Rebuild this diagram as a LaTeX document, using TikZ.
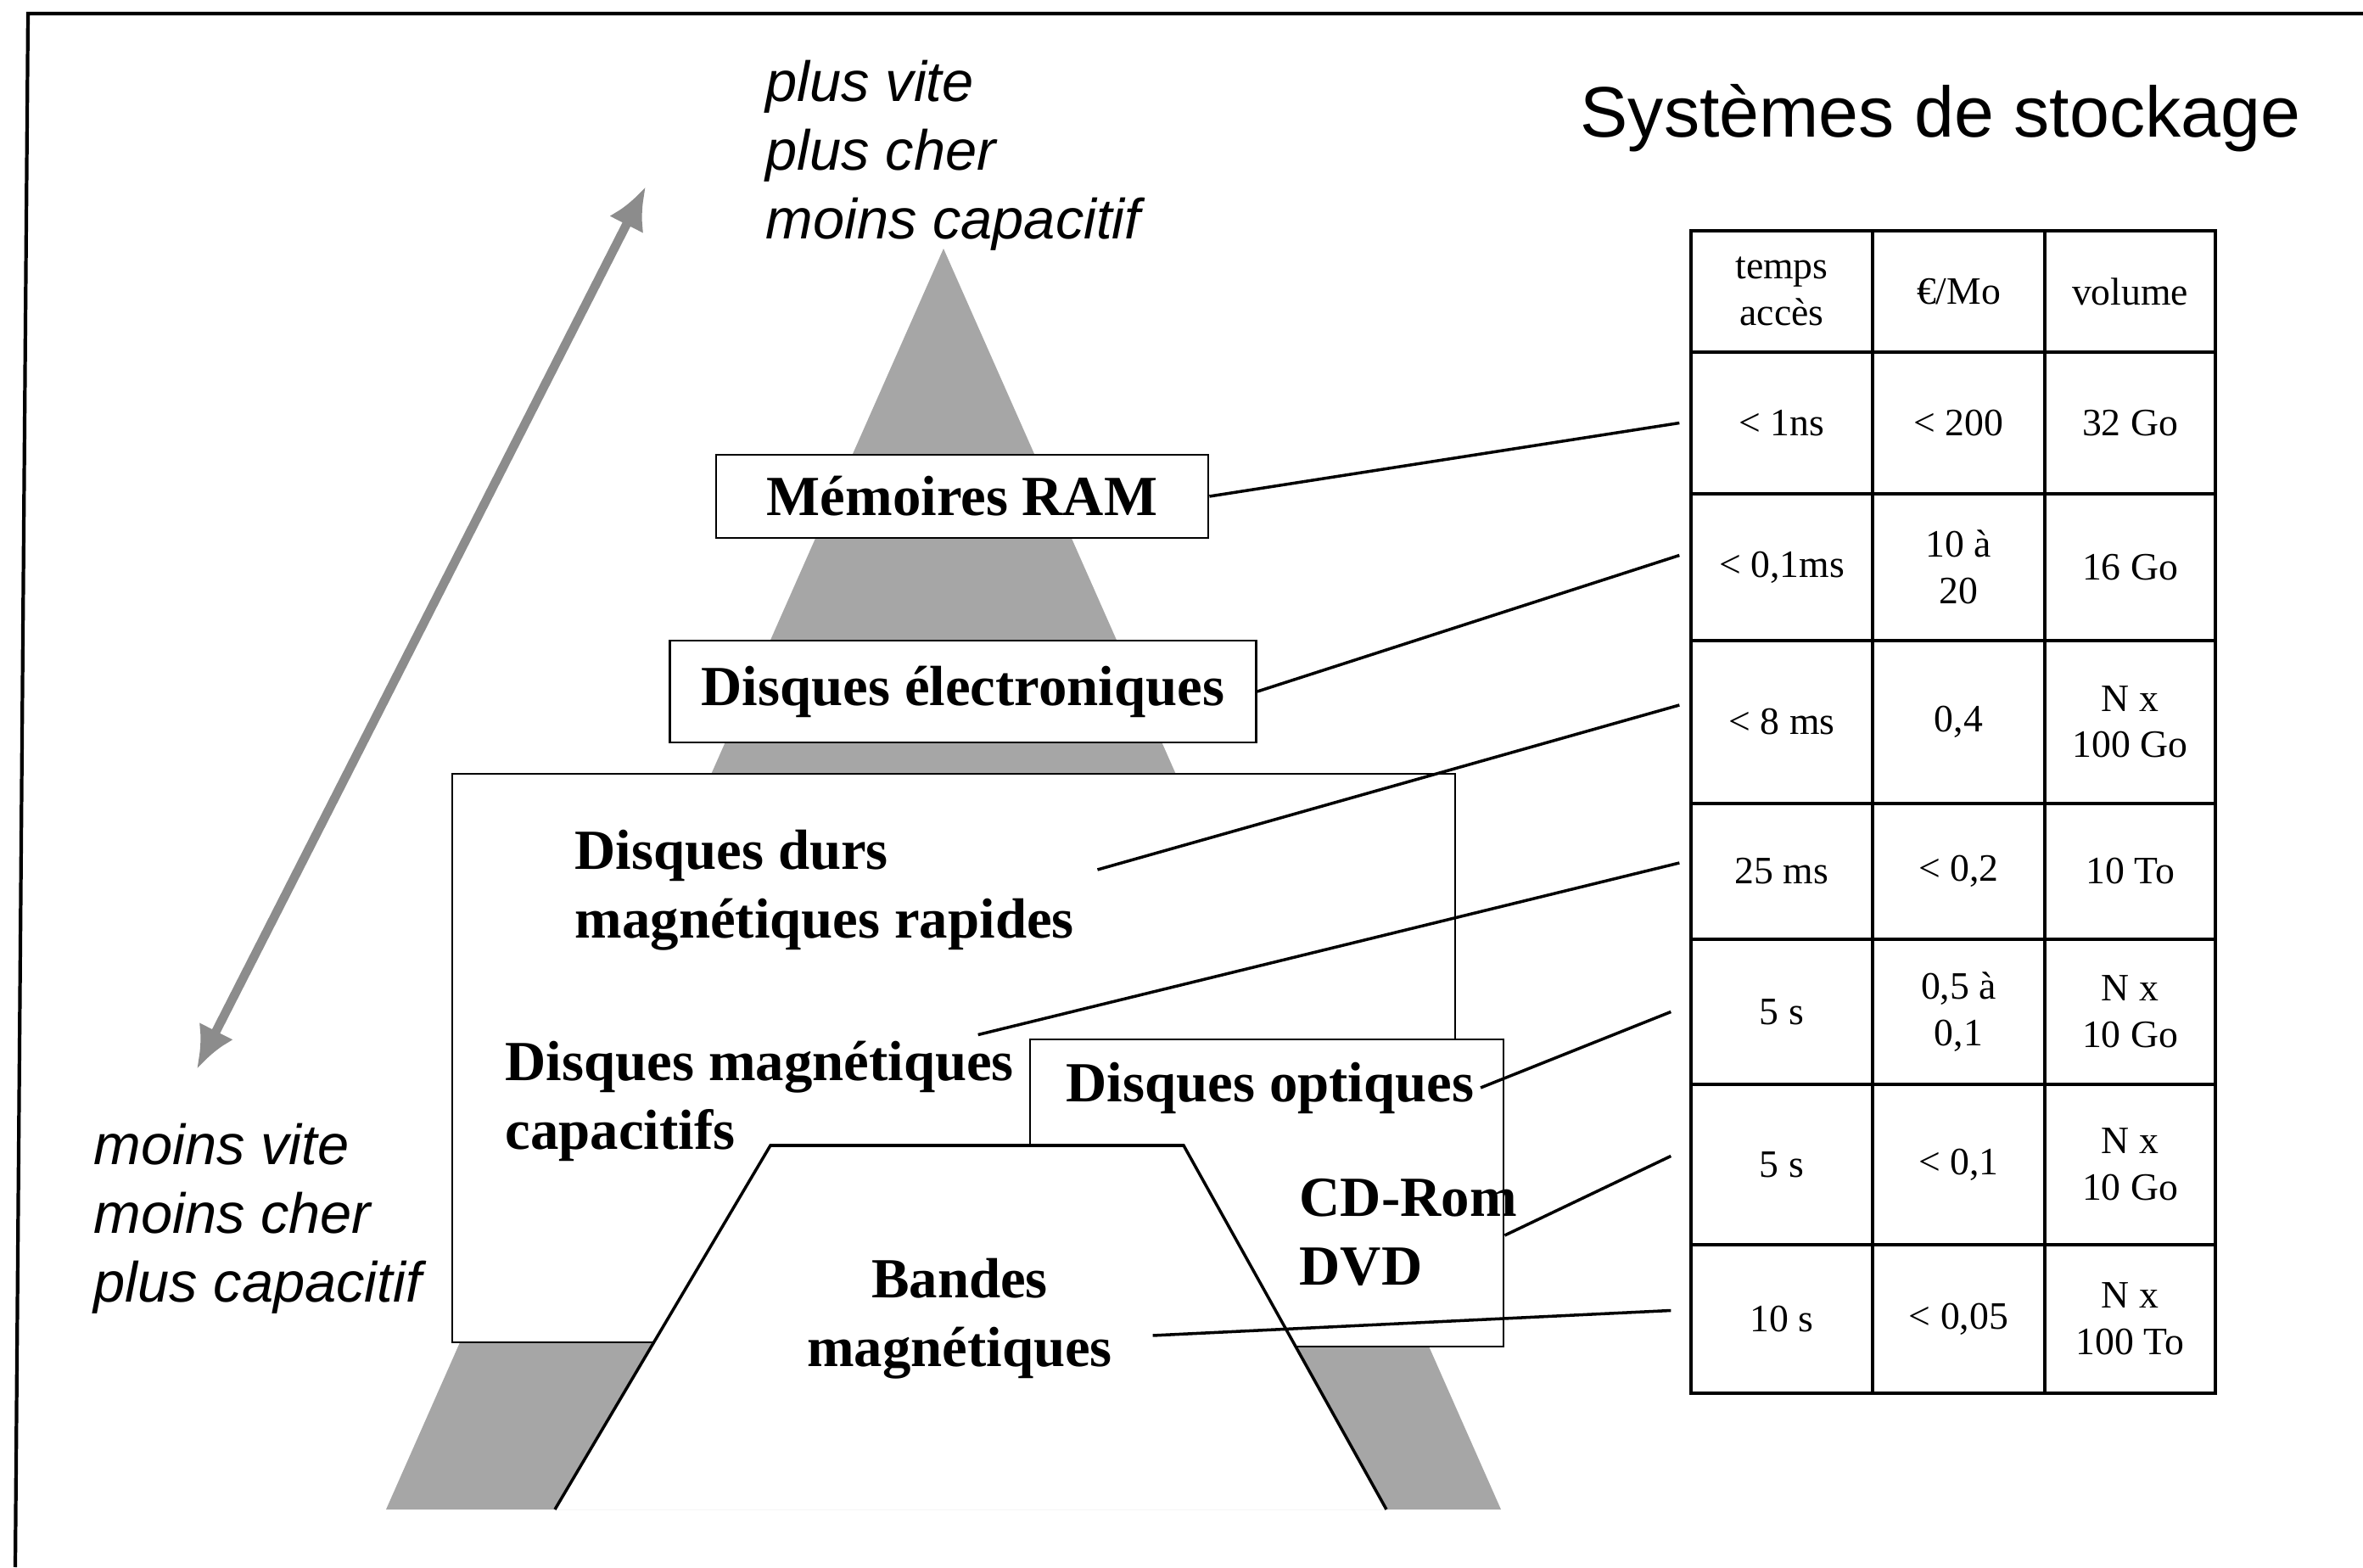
\documentclass[tikz,border=0pt]{standalone}
\usepackage{fontspec}
\setmainfont{Liberation Serif}
\newfontfamily\sansfont{Liberation Sans}
\usetikzlibrary{arrows.meta}

\tikzset{
  levelbox/.style={draw, fill=white, line width=0.8pt, font=\bfseries\fontsize{19}{23}\selectfont, inner sep=2pt},
  level/.style={font=\bfseries\fontsize{19}{23}\selectfont, align=left, inner sep=2pt},
  remark/.style={font=\sansfont\itshape\fontsize{19}{23}\selectfont, align=left, inner sep=0pt},
  cell/.style={font=\fontsize{13}{15.5}\selectfont, align=center, minimum width=1.9cm, inner sep=1pt},
  link/.style={line width=1pt},
}

\begin{document}
\begin{tikzpicture}
\useasboundingbox (0,0) rectangle (27.85,18.47);

% frame
\draw[line width=1.2pt] (0.18,0) -- (0.33,18.31) -- (27.85,18.31);

% pyramid
\fill[black!35] (11.12,15.54) -- (17.69,0.68) -- (4.55,0.68) -- cycle;
\draw[line width=0.8pt, fill=white] (5.33,2.65) rectangle (17.15,9.35);
\node[draw, fill=white, line width=0.8pt, minimum width=5.58cm, minimum height=3.62cm, inner sep=0pt] (optbox) at (14.93,4.41) {};
\fill[white] (6.54,0.68) -- (9.08,4.97) -- (13.95,4.97) -- (16.34,0.68) -- cycle;
\draw[line width=1pt] (6.54,0.68) -- (9.08,4.97) -- (13.95,4.97) -- (16.34,0.68);

% levels
\node[levelbox, minimum width=5.8cm, minimum height=0.98cm] (ram) at (11.34,12.62) {Mémoires RAM};
\node[levelbox, minimum width=6.91cm, minimum height=1.2cm] (elec) at (11.35,10.32) {Disques électroniques};
\node[level, anchor=west] (durs) at (6.70,7.98) {Disques durs\\magnétiques rapides};
\node[level, anchor=west] (magn) at (5.88,5.49) {Disques magnétiques\\capacitifs};
\node[level, anchor=west] (optq) at (12.49,5.65) {Disques optiques};
\node[level, anchor=west] (cdrom) at (15.24,3.95) {CD-Rom\\DVD};
\node[level, align=center] (bandes) at (11.31,2.93) {Bandes\\magnétiques};

% trends
\node[remark, anchor=west] (fast) at (9.02,16.64) {plus vite\\plus cher\\moins capacitif};
\node[remark, anchor=west] (slow) at (1.10,4.11) {moins vite\\moins cher\\plus capacitif};
\coordinate (low) at (2.32,5.87);
\coordinate (high) at (7.61,16.27);
\draw[black!45, line width=3pt, {Latex[length=5mm,width=4.5mm]}-{Latex[length=5mm,width=4.5mm]}] (low) -- (high);

\node[font=\sansfont\fontsize{24}{28}\selectfont] (title) at (22.87,17.08) {Systèmes de stockage};

% table
\draw[line width=0.9pt] (19.93,2.05) rectangle (26.11,15.75);
\foreach \y in {14.32,12.65,10.92,9.00,7.40,5.69,3.80}
  \draw[line width=0.9pt] (19.93,\y) -- (26.11,\y);
\foreach \x in {22.07,24.10}
  \draw[line width=0.9pt] (\x,2.05) -- (\x,15.75);

\node[cell] (h1) at (21.00,15.035) {temps\\accès};
\node[cell] (h2) at (23.085,15.035) {€/Mo};
\node[cell] (h3) at (25.105,15.035) {volume};
\node[cell] (a1) at (21.00,13.485) {< 1ns};
\node[cell] (b1) at (23.085,13.485) {< 200};
\node[cell] (c1) at (25.105,13.485) {32 Go};
\node[cell] (a2) at (21.00,11.785) {< 0,1ms};
\node[cell] (b2) at (23.085,11.785) {10 à\\20};
\node[cell] (c2) at (25.105,11.785) {16 Go};
\node[cell] (a3) at (21.00,9.96) {< 8 ms};
\node[cell] (b3) at (23.085,9.96) {0,4};
\node[cell] (c3) at (25.105,9.96) {N x\\100 Go};
\node[cell] (a4) at (21.00,8.20) {25 ms};
\node[cell] (b4) at (23.085,8.20) {< 0,2};
\node[cell] (c4) at (25.105,8.20) {10 To};
\node[cell] (a5) at (21.00,6.545) {5 s};
\node[cell] (b5) at (23.085,6.545) {0,5 à\\0,1};
\node[cell] (c5) at (25.105,6.545) {N x\\10 Go};
\node[cell] (a6) at (21.00,4.745) {5 s};
\node[cell] (b6) at (23.085,4.745) {< 0,1};
\node[cell] (c6) at (25.105,4.745) {N x\\10 Go};
\node[cell] (a7) at (21.00,2.925) {10 s};
\node[cell] (b7) at (23.085,2.925) {< 0,05};
\node[cell] (c7) at (25.105,2.925) {N x\\100 To};

% links
\draw[link] (ram.east) -- ([xshift=-2.5mm]a1.west);
\draw[link] (elec.east) -- ([xshift=-2.5mm,yshift=1.4mm]a2.west);
\draw[link] ([xshift=2mm,yshift=2.4mm]durs.east) -- ([xshift=-2.5mm,yshift=2mm]a3.west);
\draw[link] ([xshift=-5mm]magn.north east) -- ([xshift=-2.5mm,yshift=1mm]a4.west);
\draw[link] (optq.east) -- ([xshift=-3.5mm]a5.west);
\draw[link] ([yshift=-5mm]optbox.east) -- ([xshift=-3.5mm,yshift=1mm]a6.west);
\draw[link] ([xshift=4mm,yshift=-2mm]bandes.east) -- ([xshift=-3.5mm,yshift=1mm]a7.west);
\end{tikzpicture}
\end{document}
